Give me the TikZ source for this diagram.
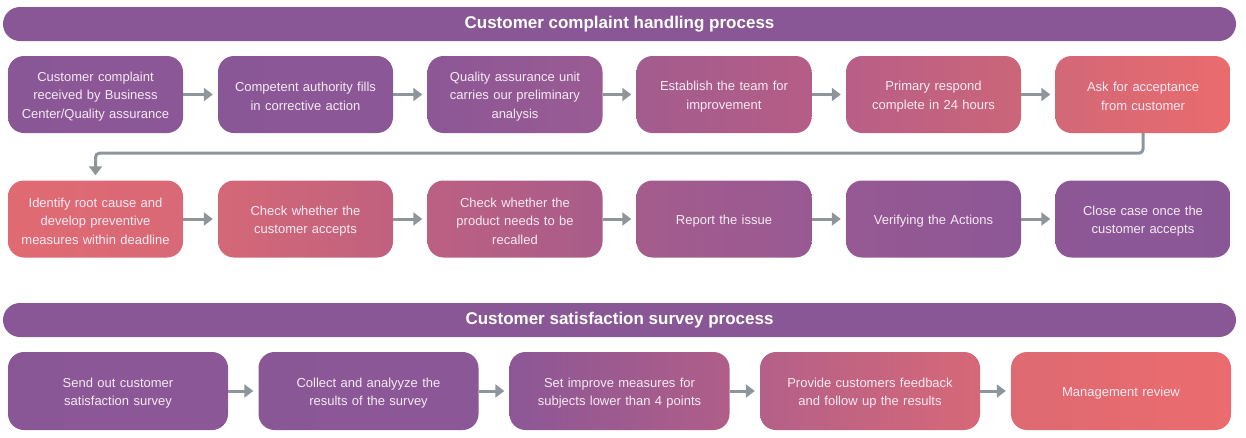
\documentclass[tikz,border=0pt]{standalone}
\usepackage{fontspec}
\setmainfont{Liberation Sans}
\usetikzlibrary{arrows.meta}
\definecolor{pu}{HTML}{8A5796}
\definecolor{gr}{HTML}{8E969B}
\definecolor{txt}{HTML}{F6EAF3}
\definecolor{a1}{HTML}{8A5796}\definecolor{a2}{HTML}{8C5796}
\definecolor{a3}{HTML}{8C5796}\definecolor{a4}{HTML}{9A5B93}
\definecolor{a5}{HTML}{A25C8E}\definecolor{a6}{HTML}{B55D86}
\definecolor{a7}{HTML}{B85E87}\definecolor{a8}{HTML}{CB6679}
\definecolor{a9}{HTML}{D26877}\definecolor{a10}{HTML}{EA6B6E}
\definecolor{b1}{HTML}{E06A72}\definecolor{b2}{HTML}{D86976}
\definecolor{b3}{HTML}{D46877}\definecolor{b4}{HTML}{C0617F}
\definecolor{b5}{HTML}{BC6082}\definecolor{b6}{HTML}{A85C8A}
\definecolor{b7}{HTML}{A45C8C}\definecolor{b8}{HTML}{985993}
\definecolor{b9}{HTML}{965993}\definecolor{b10}{HTML}{8D5796}
\definecolor{c1}{HTML}{8C5796}\definecolor{c2}{HTML}{B05E88}
\definecolor{c3}{HTML}{B46088}\definecolor{c4}{HTML}{D66878}
\definecolor{c5}{HTML}{DE6A72}\definecolor{c6}{HTML}{EB6B6E}
\tikzset{
  hdr/.style={fill=pu, rounded corners=17pt, minimum width=1233pt, minimum height=34pt,
    inner sep=0pt, text=white, font=\fontsize{17}{20}\selectfont\bfseries,
    execute at begin node={\vphantom{Ag}}},
  box/.style={rounded corners=16pt, minimum height=77pt, inner sep=0pt},
  lbl/.style={inner sep=0pt, align=center, text=txt, yshift=-2pt,
    font=\fontsize{13}{18.5}\selectfont},
  sbox/.style={box, minimum width=175pt},
  wbox/.style={box, minimum width=220pt, minimum height=78pt},
  conn/.style={draw=gr, line width=3pt, -{Triangle[length=9pt,width=13pt]}, shorten >=5pt},
}
\newcommand\smbox[5]{\node[sbox, left color=#3, right color=#4,
  label={[lbl, text width=168pt]center:{#5}}] (#1) at #2 {};}
\newcommand\wdbox[5]{\node[wbox, left color=#3, right color=#4,
  label={[lbl, text width=210pt]center:{#5}}] (#1) at #2 {};}
\begin{document}
\begin{tikzpicture}[x=1pt,y=-1pt]
\useasboundingbox (0,0) rectangle (1246,437);
\node[hdr] (h1) at (619.5,24) {Customer complaint handling process};
\node[hdr] (h2) at (619.5,320) {Customer satisfaction survey process};
% row 1
\smbox{r1}{(95.5,94.5)}{a1}{a2}{Customer complaint\\received by Business\\Center/Quality assurance}
\smbox{r2}{(305.5,94.5)}{a1}{a2}{Competent authority fills\\in corrective action}
\smbox{r3}{(515,94.5)}{a3}{a4}{Quality assurance unit\\carries our preliminary\\analysis}
\smbox{r4}{(724,94.5)}{a5}{a6}{Establish the team for\\improvement}
\smbox{r5}{(933.5,94.5)}{a7}{a8}{Primary respond\\complete in 24 hours}
\smbox{r6}{(1143,94.5)}{a9}{a10}{Ask for acceptance\\from customer}
% row 2
\smbox{s1}{(95.5,219)}{b1}{b2}{Identify root cause and\\develop preventive\\measures within deadline}
\smbox{s2}{(305.5,219)}{b3}{b4}{Check whether the\\customer accepts}
\smbox{s3}{(515,219)}{b5}{b6}{Check whether the\\product needs to be\\recalled}
\smbox{s4}{(724,219)}{b7}{b8}{Report the issue}
\smbox{s5}{(933.5,219)}{b9}{b10}{Verifying the Actions}
\smbox{s6}{(1143,219)}{b10}{a1}{Close case once the\\customer accepts}
% row 3
\wdbox{t1}{(118,391)}{a1}{a2}{Send out customer\\satisfaction survey}
\wdbox{t2}{(368.5,391)}{a1}{a2}{Collect and analyyze the\\results of the survey}
\wdbox{t3}{(619.5,391)}{c1}{c2}{Set improve measures for\\subjects lower than 4 points}
\wdbox{t4}{(870,391)}{c3}{c4}{Provide customers feedback\\and follow up the results}
\wdbox{t5}{(1121,391)}{c5}{c6}{Management review}
% connectors
\foreach \a/\b in {r1/r2,r2/r3,r3/r4,r4/r5,r5/r6,s1/s2,s2/s3,s3/s4,s4/s5,s5/s6,t1/t2,t2/t3,t3/t4,t4/t5}
  \draw[conn] (\a.east) -- (\b.west);
\draw[conn, rounded corners=4pt] (r6.south) -- ++(0,20) -| (s1.north);
\end{tikzpicture}
\end{document}
